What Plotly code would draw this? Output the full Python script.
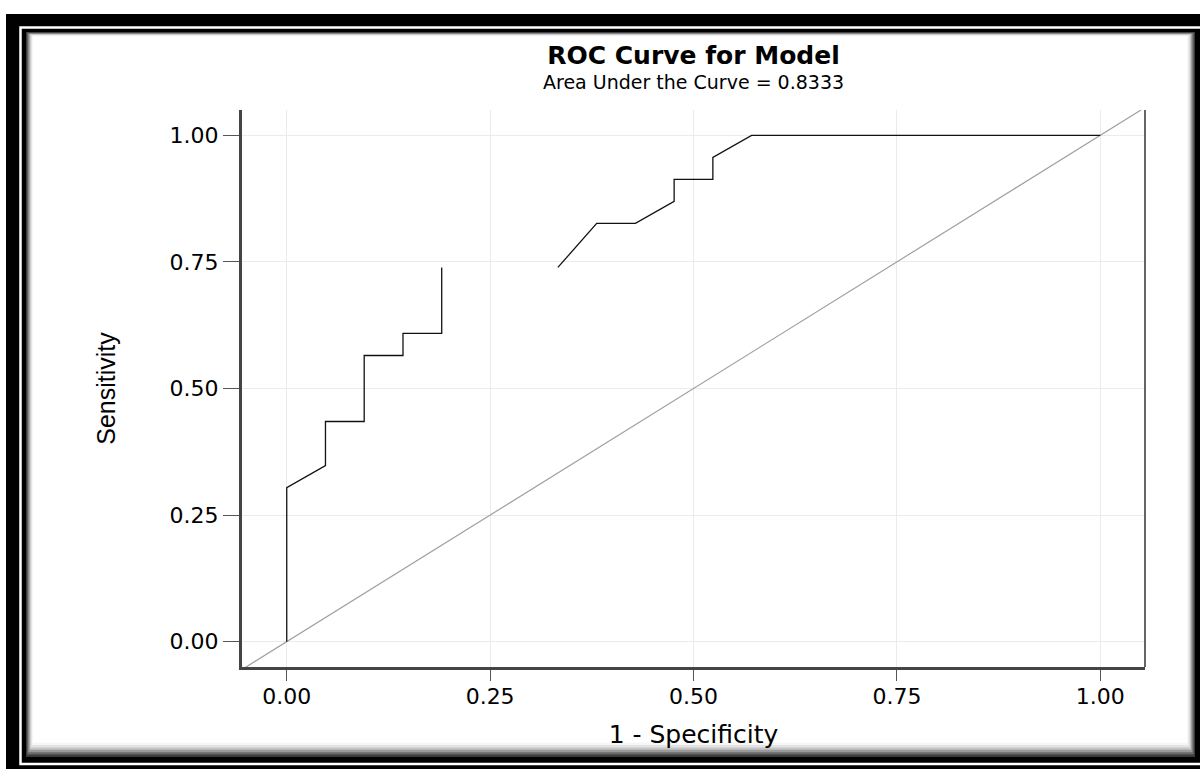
import plotly.graph_objects as go

# ---- data ----
fpr = [0.0, 0.0, 0.0476, 0.0476, 0.0952, 0.0952, 0.1429, 0.1429, 0.1905, 0.1905,
       None, 0.3333, 0.3810, 0.4286, 0.4762, 0.4762, 0.5238, 0.5238, 0.5714, 1.0]
tpr = [0.0, 0.3043, 0.3478, 0.4348, 0.4348, 0.5652, 0.5652, 0.6087, 0.6087, 0.7391,
       None, 0.7391, 0.8261, 0.8261, 0.8696, 0.9130, 0.9130, 0.9565, 1.0, 1.0]
chance_line = [-0.06, 1.06]
tick_vals = [0.0, 0.25, 0.5, 0.75, 1.0]
tick_text = ["0.00", "0.25", "0.50", "0.75", "1.00"]
title_text = "ROC Curve for Model"
subtitle_text = "Area Under the Curve = 0.8333"

W, H = 1202, 769
ML, MR, MT, MB = 242, 57, 110, 102
PW, PH = W - ML - MR, H - MT - MB


def px(x):
    return (x - ML) / PW


def py(y):
    return (H - MB - y) / PH


fig = go.Figure()
fig.add_trace(go.Scatter(x=chance_line, y=chance_line, mode="lines",
                         line=dict(color="#a0a0a0", width=1.2),
                         hoverinfo="skip", showlegend=False))
fig.add_trace(go.Scatter(x=fpr, y=tpr, mode="lines",
                         line=dict(color="#111111", width=1.3),
                         connectgaps=False, showlegend=False))

# ---- page frame (black border, white line, inner shadow) ----
shapes = []


def rect(x0, y0, x1, y1, fill=None, line=None, lw=0):
    d = dict(type="rect", xref="paper", yref="paper",
             x0=px(x0), x1=px(x1), y0=py(y1), y1=py(y0), layer="below")
    d["fillcolor"] = fill if fill else "rgba(0,0,0,0)"
    d["line"] = dict(color=line if line else "rgba(0,0,0,0)", width=lw)
    return d


shapes.append(rect(6, 14, 1200, 769, fill="#000000"))
shapes.append(rect(20.5, 27.5, 1230, 764, line="#ffffff", lw=2.5))
shade = ["#3a3a3a", "#6a6a6a", "#999999", "#c4c4c4", "#e4e4e4", "#f6f6f6", "#ffffff"]
for i, c in enumerate(shade):
    shapes.append(rect(26 + i * 1.2, 32 + i * 0.7, 1195 - i * 1.3, 757 - i * 2.4, fill=c))

# right border of plot area
shapes.append(dict(type="line", xref="paper", yref="paper", x0=1, x1=1, y0=0, y1=1,
                   line=dict(color="#333333", width=1.5), layer="above"))
fig.update_layout(shapes=shapes)

tick_font = dict(family="DejaVu Sans, Arial, sans-serif", size=22, color="#000000")

fig.update_xaxes(range=[-0.055, 1.055], tickvals=tick_vals, ticktext=tick_text,
                 showgrid=True, gridcolor="#ebebeb", gridwidth=1, zeroline=False,
                 showline=True, linecolor="#444444", linewidth=3,
                 ticks="outside", ticklen=11, tickcolor="#555555", tickwidth=1.2,
                 tickfont=tick_font, ticklabelstandoff=-3,
                 title=dict(text="1 - Specificity", standoff=18,
                            font=dict(family="DejaVu Sans, Arial, sans-serif", size=25, color="#000000")))
fig.update_yaxes(range=[-0.05, 1.05], tickvals=tick_vals, ticktext=tick_text,
                 showgrid=True, gridcolor="#ebebeb", gridwidth=1, zeroline=False,
                 showline=True, linecolor="#444444", linewidth=3,
                 ticks="outside", ticklen=16, tickcolor="#555555", tickwidth=1.2,
                 tickfont=tick_font, ticklabelstandoff=0,
                 title=dict(text="Sensitivity", standoff=47,
                            font=dict(family="Liberation Sans Narrow, Liberation Sans, Arial, sans-serif",
                                      size=25, color="#000000")))

fig.update_layout(
    width=W, height=H,
    margin=dict(l=ML, r=MR, t=MT, b=MB, autoexpand=False),
    paper_bgcolor="#ffffff", plot_bgcolor="#ffffff",
    title=dict(text=title_text, x=0.5, xref="paper", xanchor="center",
               y=1 - 55 / H, yref="container", yanchor="middle",
               font=dict(family="DejaVu Sans, Arial, sans-serif", size=25, color="#000000", weight="bold")),
    annotations=[dict(text=subtitle_text, x=0.5, xref="paper", xanchor="center",
                      y=py(82), yref="paper", yanchor="middle", showarrow=False,
                      font=dict(family="DejaVu Sans, Arial, sans-serif", size=19, color="#000000"))],
    showlegend=False,
)

fig.write_html("out.html", config={"displayModeBar": False},
               post_script="document.body.style.margin='0';")
